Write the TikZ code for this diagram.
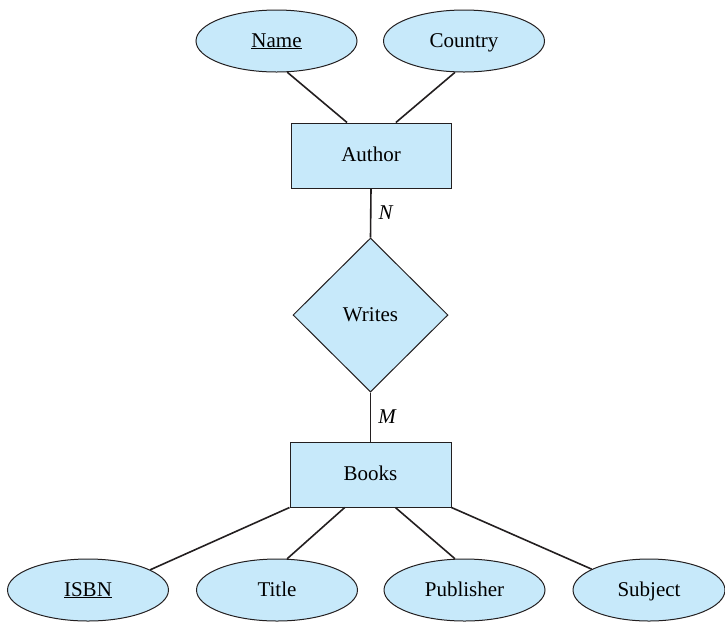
\documentclass[tikz,border=0pt]{standalone}
\usepackage{fontspec}
\setmainfont{Liberation Serif}
\usetikzlibrary{shapes.geometric}
\definecolor{erfill}{RGB}{199,233,250}
\definecolor{erline}{RGB}{35,31,32}
\tikzset{
  base/.style={draw=erline, fill=erfill, line width=1pt, inner sep=0pt,
    text height=16pt, text depth=4pt, font=\fontsize{21}{25}\selectfont},
  attr/.style={base, ellipse, minimum width=161pt, minimum height=62pt},
  entity/.style={base, rectangle, minimum width=160pt, minimum height=65pt},
  rel/.style={base, diamond, minimum width=155pt, minimum height=154pt},
  conn/.style={draw=erline, line width=1.6pt},
  card/.style={font=\fontsize{21}{25}\selectfont\itshape, inner sep=7pt}
}
\begin{document}
\begin{tikzpicture}[x=1pt,y=-1pt]
\useasboundingbox (0,0) rectangle (725,622);
% top attributes
\node[attr] (name) at (276.5,41) {\underline{Name}};
\node[attr] (country) at (464,41) {Country};
% entities and relationship
\node[entity] (author) at (371,155.5) {Author};
\node[rel] (writes) at (370.5,315) {Writes};
\node[entity, minimum width=161pt] (books) at (370.5,474.5) {Books};
% bottom attributes
\node[attr] (isbn) at (88,590) {\underline{ISBN}};
\node[attr] (title) at (277,590) {Title};
\node[attr] (publisher) at (464.5,590) {Publisher};
\node[attr, minimum width=152pt] (subject) at (649,590) {Subject};
% connectors
\draw[conn] (name.-71) -- (author.126.4);
\draw[conn] (country.-106) -- (author.53.6);
\draw[conn] (author.south) -- node[card, right] {N} (writes.north);
\draw[conn] (writes.south) -- node[card, right] {M} (books.north);
\draw[conn] (books.south west) -- (isbn.18);
\draw[conn] (books.232.4) -- (title.72);
\draw[conn] (books.-53) -- (publisher.107);
\draw[conn] (books.south east) -- (subject.160);
\end{tikzpicture}
\end{document}
